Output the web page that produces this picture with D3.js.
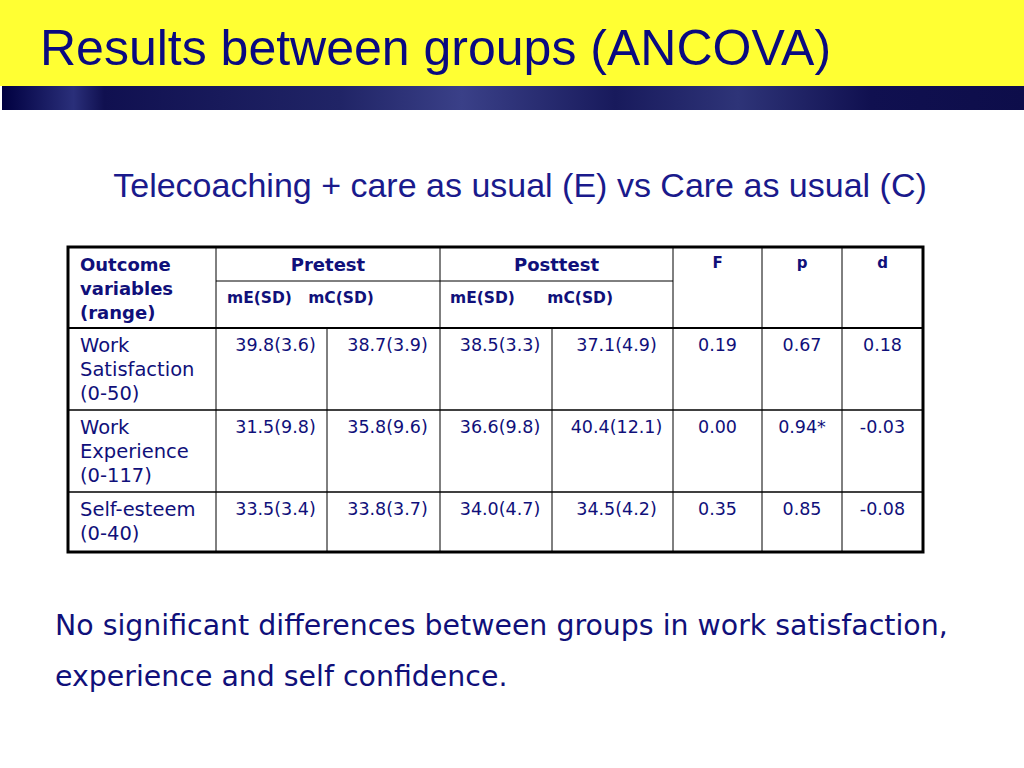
<!DOCTYPE html>
<html>
<head>
<meta charset="utf-8"/>
<style>
body { margin: 0; background: #fff; }
svg { display: block; }
</style>
</head>
<body>
<svg id="slide" width="1024" height="768"></svg>
<script src="https://cdnjs.cloudflare.com/ajax/libs/d3/7.8.5/d3.min.js"></script>
<script>
const title = "Results between groups (ANCOVA)";
const subtitle = "Telecoaching + care as usual (E) vs Care as usual (C)";
const outcomes = [["Work", "Satisfaction", "(0-50)"], ["Work", "Experience", "(0-117)"], ["Self-esteem", "(0-40)"]];
const preE = ["39.8(3.6)", "31.5(9.8)", "33.5(3.4)"];
const preC = ["38.7(3.9)", "35.8(9.6)", "33.8(3.7)"];
const postE = ["38.5(3.3)", "36.6(9.8)", "34.0(4.7)"];
const postC = ["37.1(4.9)", "40.4(12.1)", "34.5(4.2)"];
const fVals = ["0.19", "0.00", "0.35"];
const pVals = ["0.67", "0.94*", "0.85"];
const dVals = ["0.18", "-0.03", "-0.08"];
const footer = ["No significant differences between groups in work satisfaction,", "experience and self confidence."];

const navy = "#10107a";
const svg = d3.select("#slide");

// header bands
svg.append("rect").attr("x", 0).attr("y", 0).attr("width", 1024).attr("height", 86).attr("fill", "#ffff33");
const grad = svg.append("defs").append("linearGradient").attr("id", "band");
[[0, "#000040"], [0.07, "#2a2f7a"], [0.1, "#101050"], [0.33, "#202466"], [0.45, "#3a4088"], [0.6, "#181a5c"], [0.72, "#2e3478"], [0.85, "#101050"], [1, "#0d0d4a"]]
  .forEach(s => grad.append("stop").attr("offset", s[0]).attr("stop-color", s[1]));
svg.append("rect").attr("x", 2).attr("y", 86).attr("width", 1022).attr("height", 24).attr("fill", "url(#band)");

svg.append("text").attr("x", 40).attr("y", 65).attr("font-family", "Liberation Sans, Arial").attr("font-size", 50)
  .attr("fill", "#0a0a80").text(title);
svg.append("text").attr("x", 520).attr("y", 197).attr("text-anchor", "middle").attr("font-family", "Liberation Sans, Arial")
  .attr("font-size", 34).attr("fill", "#1a1a8c").text(subtitle);

// table geometry
const colX = [68, 216, 327, 440, 552, 673, 762, 842, 923];
const rowY = [247, 281, 328, 410, 492, 552];
const font = "DejaVu Sans, Verdana";
const g = svg.append("g").attr("font-family", font).attr("fill", navy);

const line = (x1, y1, x2, y2, w) => g.append("line").attr("x1", x1).attr("y1", y1).attr("x2", x2).attr("y2", y2)
  .attr("stroke", "#000").attr("stroke-width", w);

// inner lines
line(colX[1], rowY[1], colX[5], rowY[1], 1);
[1, 3, 5, 6, 7].forEach(i => line(colX[i], rowY[0], colX[i], rowY[5], 1));
[2, 4].forEach(i => line(colX[i], rowY[2], colX[i], rowY[5], 1));
[2, 3, 4].forEach(i => line(colX[0], rowY[i], colX[8], rowY[i], i === 2 ? 2 : 1.5));
// outer border
g.append("rect").attr("x", colX[0]).attr("y", rowY[0]).attr("width", colX[8] - colX[0]).attr("height", rowY[5] - rowY[0])
  .attr("fill", "none").attr("stroke", "#000").attr("stroke-width", 3);

const txt = (x, y, s, opts = {}) => g.append("text").attr("x", x).attr("y", y).text(s)
  .attr("font-size", opts.size || 17).attr("font-weight", opts.bold ? "bold" : "normal")
  .attr("text-anchor", opts.anchor || "start").attr("xml:space", "preserve");

["Outcome", "variables", "(range)"].forEach((s, i) => txt(80, 271 + i * 24, s, { bold: true, size: 18 }));
txt((colX[1] + colX[3]) / 2, 271, "Pretest", { bold: true, size: 18, anchor: "middle" });
txt((colX[3] + colX[5]) / 2, 271, "Posttest", { bold: true, size: 18, anchor: "middle" });
txt(227, 303, "mE(SD)   mC(SD)", { bold: true, size: 15.5 });
txt(450, 303, "mE(SD)      mC(SD)", { bold: true, size: 15.5 });
["F", "p", "d"].forEach((s, i) => txt((colX[5 + i] + colX[6 + i]) / 2, 268, s, { bold: true, size: 15, anchor: "middle" }));

const cols = [preE, preC, postE, postC, fVals, pVals, dVals];
outcomes.forEach((lab, r) => {
  const top = rowY[r + 2];
  lab.forEach((s, i) => txt(80, top + 24 + i * 24, s, { size: 19.5 }));
  cols.forEach((c, j) => txt((colX[j + 1] + colX[j + 2]) / 2 + (j < 4 ? 4 : 0), top + 23, c[r], { size: 17.5, anchor: "middle" }));
});

footer.forEach((s, i) => svg.append("text").attr("x", 55).attr("y", 635 + i * 51).attr("font-family", font)
  .attr("font-size", 28.4).attr("fill", navy).text(s));
</script>
</body>
</html>
